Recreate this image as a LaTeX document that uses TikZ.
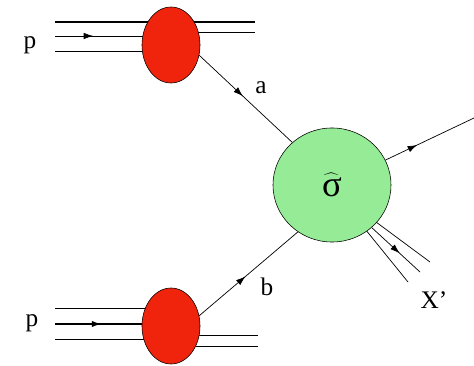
\documentclass[tikz,border=0pt]{standalone}
\usepackage{fontspec}
\setmainfont{Liberation Serif}
\usepackage{tikz}
\usetikzlibrary{shapes.geometric, arrows.meta, decorations.markings}
\definecolor{blobred}{RGB}{240,36,12}
\definecolor{hardgreen}{RGB}{150,236,150}

\begin{document}
\begin{tikzpicture}[
  x=0.025cm, y=-0.025cm,
  font=\fontsize{18}{20}\selectfont,
  pdf/.style={draw, ellipse, fill=blobred, minimum width=1.45cm, minimum height=1.9cm, inner sep=0pt},
  hard/.style={draw, ellipse, fill=hardgreen, minimum width=2.95cm, minimum height=2.85cm, inner sep=0pt,
    font=\fontsize{26}{28}\selectfont},
  beam/.style={line width=0.5pt},
  flow/.style={line width=0.5pt, postaction={decorate},
    decoration={markings, mark=at position #1 with {\arrow{Latex[length=2.4mm, width=1.6mm]}}}},
  flow/.default=0.5,
]
\useasboundingbox (0,0) rectangle (474,366);

% Beam ends
\coordinate (tl1) at (55,22);  \coordinate (tr1) at (255,22);
\coordinate (tl2) at (55,36);  \coordinate (tr2) at (255,32);
\coordinate (tl3) at (55,51);
\coordinate (bl1) at (55,308); \coordinate (br1) at (258,335);
\coordinate (bl2) at (55,324); \coordinate (br2) at (258,346);
\coordinate (bl3) at (55,339);

% Outgoing ends
\coordinate (out) at (474,118);
\coordinate (x1) at (430,262);
\coordinate (x2) at (420,272);
\coordinate (x3) at (408,282);

% Beams (drawn below the blobs)
\draw[beam, line width=0.9pt] (tl1) -- (tr1);
\draw[flow=0.33] (tl2) -- (tl2 -| 171,0);
\draw[beam] (tl3) -- (tl3 -| 171,0);
\draw[beam] (171,32) -- (tr2);
\draw[beam] (bl1) -- (bl1 -| 171,0);
\draw[flow=0.4, line width=1pt] (bl2) -- (bl2 -| 171,0);
\draw[beam] (bl3) -- (bl3 -| 171,0);
\draw[beam] (171,335) -- (br1);
\draw[beam] (171,346) -- (br2);

% Blobs
\node[pdf] (pa) at (171,45) {};
\node[pdf] (pb) at (171,326) {};
\node[hard] (hs) at (332,185) {$\widehat{\mbox{σ}}$};

% Partons into the hard process
\draw[flow=0.47] (pa.-20) -- (hs.133);
\draw[flow=0.47] (pb.20) -- (hs.234);

% Products
\draw[flow=0.36] (hs.25) -- (out);
\draw[beam] (hs.-40) -- (x1);
\draw[flow=0.58] (hs.-47) -- (x2);
\draw[beam] (hs.-53) -- (x3);

% Labels
\node (lpa) at (30,45) {p};
\node (lpb) at (32,323) {p};
\node (la) at (261,88) {a};
\node (lb) at (267,287) {b};
\node (lx) at (434,300) {X’};
\end{tikzpicture}
\end{document}
